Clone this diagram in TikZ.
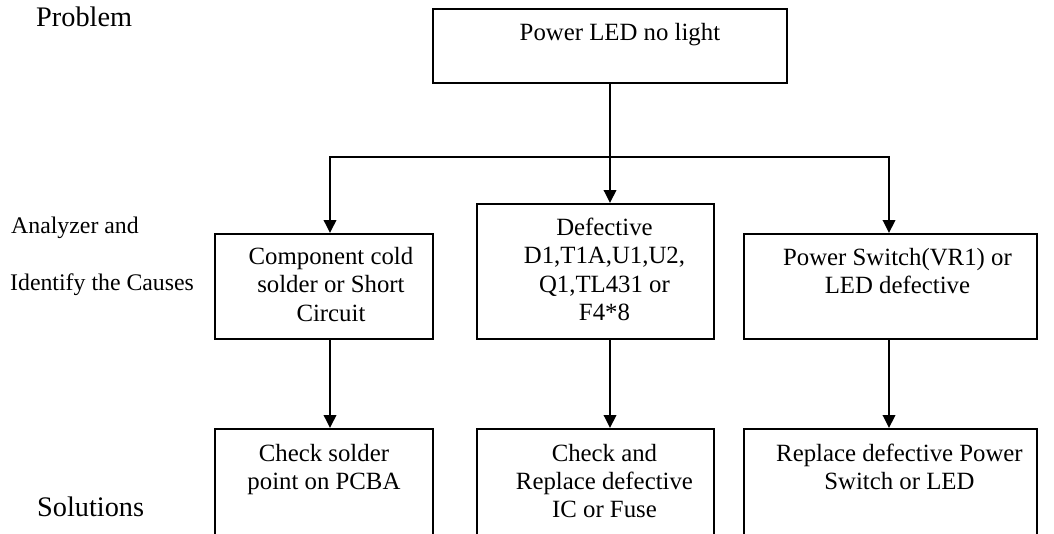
\documentclass[tikz,border=0pt]{standalone}
\usepackage{fontspec}
\setmainfont{Liberation Serif}
\usetikzlibrary{arrows.meta}
\newcommand{\mlines}[1]{\begin{tabular}[t]{@{}c@{}}#1\end{tabular}}
\begin{document}
\begin{tikzpicture}[x=1pt,y=-1pt,
  box/.style={draw, line width=1.9pt, anchor=north west, inner sep=0pt, rectangle},
  boxtext/.style={anchor=base, inner sep=0pt, font=\fontsize{24.8pt}{28.3pt}\selectfont},
  biglabel/.style={anchor=base west, inner sep=0pt, font=\fontsize{28.3pt}{34pt}\selectfont},
  smalllabel/.style={anchor=base west, inner sep=0pt, font=\fontsize{23.8pt}{28pt}\selectfont},
  arr/.style={line width=1.9pt, -{Triangle[length=13pt,width=12.5pt]}}]
\useasboundingbox (0,0) rectangle (1054,533);
\clip (0,0) rectangle (1054,533);
\fill[white] (0,0) rectangle (1054,533);

% side labels
\node[biglabel] (lprob) at (36,26.7) {Problem};
\node[smalllabel] (lana) at (11,233.3) {Analyzer and};
\node[smalllabel] (lid) at (10,290) {Identify the Causes};
\node[biglabel] (lsol) at (37,516.7) {Solutions};

% boxes
\node[box, minimum width=354pt, minimum height=74pt] (p) at (432,8) {};
\node[box, minimum width=218pt, minimum height=105pt] (c1) at (214,233) {};
\node[box, minimum width=237pt, minimum height=135pt] (c2) at (476,203) {};
\node[box, minimum width=293pt, minimum height=105pt] (c3) at (743,233) {};
\node[box, minimum width=218pt, minimum height=130pt] (s1) at (214,428) {};
\node[box, minimum width=237pt, minimum height=130pt] (s2) at (476,428) {};
\node[box, minimum width=293pt, minimum height=130pt] (s3) at (743,428) {};

% texts
\node[boxtext] (pt) at ([xshift=10pt,yshift=-32.5pt]p.north) {\mlines{Power LED no light}};
\node[boxtext] (c1t) at ([xshift=7pt,yshift=-31.5pt]c1.north) {\mlines{Component cold\\solder or Short\\Circuit}};
\node[boxtext] (c2t) at ([xshift=9pt,yshift=-32.5pt]c2.north) {\mlines{Defective\\D1,T1A,U1,U2,\\Q1,TL431 or\\F4*8}};
\node[boxtext] (c3t) at ([xshift=7pt,yshift=-32pt]c3.north) {\mlines{Power Switch(VR1) or\\LED defective}};
\node[boxtext] (s1t) at ([yshift=-33pt]s1.north) {\mlines{Check solder\\point on PCBA}};
\node[boxtext] (s2t) at ([xshift=9pt,yshift=-33pt]s2.north) {\mlines{Check and\\Replace defective\\IC or Fuse}};
\node[boxtext] (s3t) at ([xshift=9pt,yshift=-33pt]s3.north) {\mlines{Replace defective Power\\Switch or LED}};

% connector columns
\coordinate (xl) at (330,0);
\coordinate (xm) at (610,0);
\coordinate (xr) at (889,0);
\coordinate (j) at (610,157);

\draw[arr] (p.south -| xm) -- (c2.north -| xm);
\draw[arr] (j) -| (c1.north -| xl);
\draw[arr] (j) -| (c3.north -| xr);
\draw[arr] (c1.south -| xl) -- (s1.north -| xl);
\draw[arr] (c2.south -| xm) -- (s2.north -| xm);
\draw[arr] (c3.south -| xr) -- (s3.north -| xr);
\end{tikzpicture}
\end{document}
